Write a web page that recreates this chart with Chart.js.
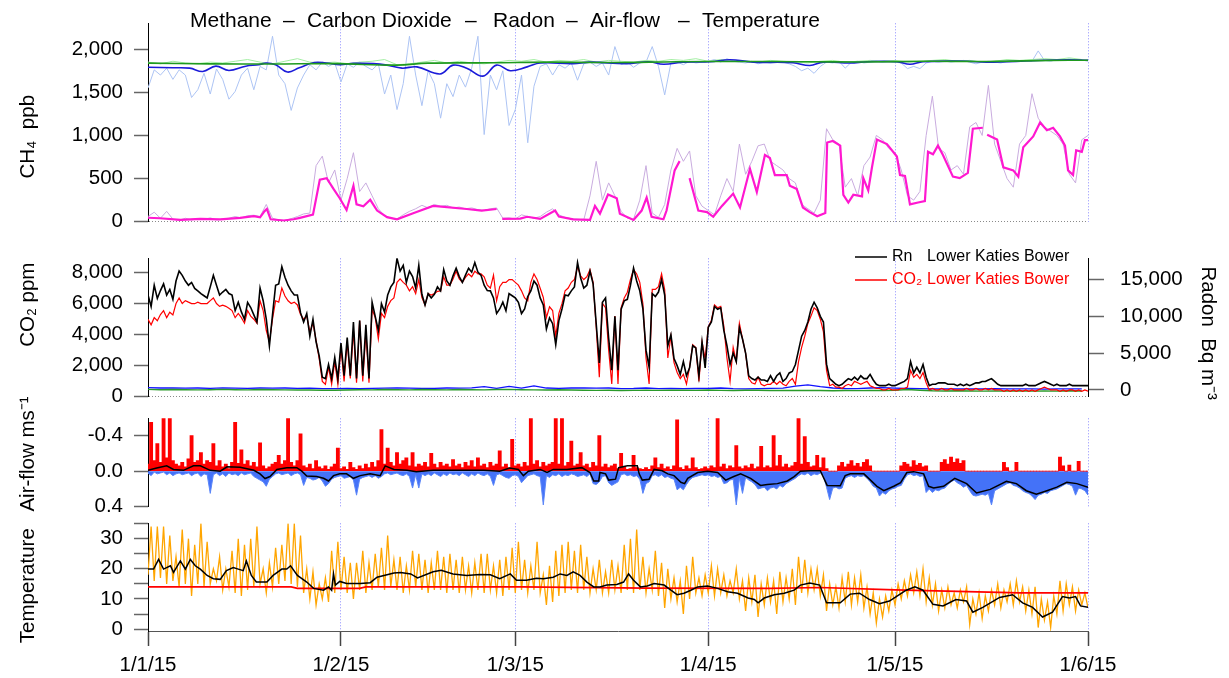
<!DOCTYPE html>
<html>
<head>
<meta charset="utf-8">
<script src="https://cdn.jsdelivr.net/npm/chart.js@4.4.1/dist/chart.umd.min.js"></script>
<style>
  html, body { margin: 0; padding: 0; background: #fff; }
  #wrap { position: relative; width: 1229px; height: 678px; overflow: hidden; }
  canvas { position: absolute; left: 0; }
</style>
</head>
<body>
<div id="wrap">
  <canvas id="ch4" width="1229" height="245" style="top:0px"></canvas>
  <canvas id="co2" width="1229" height="195" style="top:230px"></canvas>
  <canvas id="air" width="1229" height="135" style="top:395px"></canvas>
  <canvas id="temp" width="1229" height="178" style="top:500px"></canvas>
</div>
<script>
// x axis: days since 1 Jan 2015
const monthDays = [0, 31, 59, 90, 120, 151];
const monthLabels = ['1/1/15', '1/2/15', '1/3/15', '1/4/15', '1/5/15', '1/6/15'];

// ---- methane (ppb) ----
// daily raw, outside air
const ch4Raw = [1550,1760,1700,1780,1650,1760,1700,1440,1530,1720,
  1480,1770,1650,1420,1510,1700,1780,1530,1800,1760,
  2150,1700,1600,1290,1550,1700,1820,1760,1850,1800,
  1840,1620,1830,1790,1850,1800,1760,1830,1480,1700,
  1300,1600,2150,1700,1345,1750,1600,1200,1600,1450,
  1700,1560,1780,2150,1010,1700,1530,1750,1115,1300,
  1700,915,1570,1800,1830,1700,1820,1780,1840,1640,
  1830,1850,1800,1840,1700,2030,1820,1850,1790,1840,
  1850,2030,1800,1470,1840,1850,1820,1860,1840,1850,
  1860,1880,1850,1890,1860,1850,1840,1860,1830,1850,
  1840,1860,1850,1830,1800,1750,1780,1720,1800,1850,
  1840,1860,1780,1850,1860,1840,1850,1860,1850,1860,
  1850,1840,1775,1800,1775,1840,1860,1850,1860,1850,
  1860,1870,1850,1830,1850,1860,1850,1840,1860,1870,
  1860,1870,1860,1980,1870,1860,1880,1870,1890,1880,
  1870,1870];
const ch4SmoothDays = [0,4,6.7,8.8,10.9,13,15.7,17.8,19,20.5,22.4,24.3,26.7,28.6,30.8,33,36.2,38.4,40.8,43.2,
  46.9,49,51.2,53.8,56,58.2,60.9,63,68.3,71,76.9,80.4,82.8,86,90.3,93.5,97.2,103.6,106.3,108.5,
  112.8,115.5,120.3,122.4,124.5,131.5,134.8,142,147.6,151];
const ch4Smooth = [1790,1785,1780,1742,1803,1753,1803,1820,1839,1820,1735,1785,1845,1840,1820,1835,1833,1815,1780,1795,
  1713,1815,1780,1688,1815,1750,1795,1840,1833,1850,1833,1855,1825,1850,1855,1878,1850,1843,1810,1850,
  1840,1855,1855,1825,1855,1860,1850,1865,1878,1870];
// every 2 days, second outside sensor
const ch4BgRaw = [1850,1830,1860,1840,1830,1850,1840,1860,1880,1850,
  1830,1860,1890,1850,1840,1850,1830,1850,1860,1880,
  1820,1830,1850,1870,1840,1860,1840,1830,1850,1870,
  1860,1880,1850,1870,1860,1880,1850,1870,1860,1850,
  1870,1860,1880,1870,1890,1860,1880,1870,1860,1850,
  1870,1860,1850,1840,1860,1870,1850,1860,1870,1860,
  1870,1850,1860,1870,1880,1860,1870,1850,1860,1880,
  1870,1880,1890,1880,1900,1880];
const ch4BgDays = [0,10,20,30,40,45,55,65,75,85,95,105,115,125,135,145,151];
const ch4Bg = [1838,1830,1828,1832,1815,1838,1842,1850,1845,1855,1858,1855,1852,1860,1858,1870,1872];
// Lower Katies Bower, daily raw + smoothed
const lkbCh4Raw = [60,110,40,120,30,15,40,20,35,25,
  45,20,30,40,60,45,70,75,60,200,
  40,20,15,35,60,90,100,650,760,450,
  600,250,500,800,350,450,300,150,70,40,
  30,80,120,150,190,160,200,180,190,160,
  170,150,160,140,130,150,160,40,45,30,
  80,60,40,60,110,150,80,50,35,30,
  20,300,700,250,450,300,120,40,30,250,
  650,100,50,200,600,850,700,820,300,180,
  130,80,300,500,350,900,550,700,880,900,
  700,650,600,500,450,200,150,100,250,1078,
  950,900,400,500,300,650,750,1000,950,850,
  800,600,300,250,350,1000,1455,850,800,600,
  650,550,1100,1150,1000,1580,900,700,500,400,
  900,1000,1484,1200,1100,1050,1000,900,550,450,
  950,1000];
const lkbCh4Days = [0,1.9,5.2,8.4,11.6,14.8,17,18,18.7,19.1,19.7,21.8,23.4,24.4,26.5,27.6,28.7,29.8,30.8,31.9,
  33,33.5,34.6,35.7,36.8,38.4,40,42.7,45.8,51.2,53.6,56,56.4,56.9,59.8,60.9,63,65.4,66,68.3,
  71,71.8,72.6,73.9,75.3,75.8,78,79.3,80.1,80.9,82.8,83.3,84.6,85.4,86.2,87,87.6,88.4,89.8,90.8,
  92.2,94,95.1,96.7,97.8,99.1,99.9,100.7,102.6,103.1,104.2,105.2,106.3,107.5,108.8,109.1,110,111.2,111.7,112.5,
  113.3,114.7,114.9,115.7,116.3,117.1,118.7,120.3,120.8,121.6,122.4,123.7,124.8,125.3,126.1,126.9,127.7,129.3,130.4,131.7,
  132.5,134.1,134.5,134.8,136.4,137.4,139,139.8,140.6,142.2,143.3,144.4,145.4,146.5,147.3,147.8,148.6,149.1,150,150.5,
  151];
const lkbCh4 = [46,40,21,32,28,45,64,50,120,147,28,14,28,45,82,487,505,380,272,136,
  416,201,179,254,129,53,28,100,183,147,129,147,null,32,35,57,32,129,60,28,
  21,183,93,315,272,93,21,129,280,57,28,129,595,702,null,505,344,129,111,57,
  183,326,165,613,344,774,738,541,541,416,380,165,111,64,100,918,935,882,312,222,
  312,294,505,362,631,953,900,756,541,530,201,222,240,810,781,882,774,523,505,566,
  1078,1089,null,1007,953,631,595,523,864,989,1150,1060,1089,989,882,595,541,828,810,946,
  946];

// ---- CO2 (ppm) and radon (Bq m-3), every half day ----
const radon = [12890,11340,14230,12430,13500,14420,12890,13650,12310,14800,
  16150,15570,14800,14230,14610,13800,13460,13080,12800,12500,
  14000,15580,14230,12890,13300,13650,13100,12890,10770,11920,
  10600,9610,11900,11200,10190,9230,13850,12120,9610,5960,
  10190,14230,14400,16730,15300,14230,13460,12890,12890,10500,
  9230,10380,7310,9610,6540,4620,1730,1540,3460,1540,
  4420,1540,6350,1920,7120,1920,9230,1540,9420,1920,
  8840,1540,11920,10000,8080,11730,10580,12890,14000,14620,
  17890,16150,16920,14620,16150,15400,13850,16920,13000,11540,
  13080,12500,13000,14000,13460,16350,14800,14230,15500,16540,
  15400,14610,15600,16540,16000,17310,16000,15570,14230,13500,
  13460,12500,10380,11000,11920,10770,13080,12800,12500,11900,
  10380,11000,12700,13460,14800,14230,12500,11540,8270,9800,
  9000,6150,9420,11000,12890,12800,13460,14000,17310,15200,
  13850,14230,16150,14420,9000,3660,11920,12500,7000,2690,
  10000,2690,10960,12100,12310,14200,16540,14800,13460,11000,
  5400,3080,13080,12700,13300,15000,12890,6000,7500,4250,
  3300,2110,3850,1920,3000,6000,5700,1920,6500,3000,
  8500,9230,11340,10960,11150,8080,6000,3460,5000,3850,
  8460,6920,5000,1920,1540,1350,1730,1350,1350,1150,
  1920,1150,1920,2310,1150,1540,2310,2500,3460,5380,
  7300,8080,9230,10960,11920,11150,10000,9230,3500,1540,
  1150,770,580,770,1150,1540,1350,1730,1350,1920,
  1540,1540,2110,1350,770,580,580,580,770,580,
  580,770,960,1150,1540,3850,2310,3080,2310,3460,
  1730,580,770,770,960,960,960,770,770,770,
  580,770,580,770,580,770,960,960,1150,1150,
  1350,1540,1150,770,580,580,580,580,580,580,
  580,580,770,580,580,580,770,960,1150,960,
  770,580,770,580,580,580,770,580,580,580,
  580,580,580];
const co2 = [5000,4640,5100,4900,5300,5550,5100,5450,5280,6010,
  6370,6010,6200,6100,6010,6000,6100,6010,6010,6010,
  6200,6370,6010,5830,5900,5830,5700,5560,5100,5370,
  5100,4740,5560,5200,5000,4740,6190,5560,4270,3540,
  5000,6190,6100,7010,6500,6190,6010,6100,5920,5300,
  5000,5200,4180,4740,3630,2450,990,800,1900,800,
  2260,800,3180,990,3540,1170,4270,900,4920,990,
  4180,900,5640,5100,3730,5380,5100,5830,6200,6370,
  7380,7600,7380,7200,6830,7100,6650,7560,6400,5920,
  6650,6560,6650,6800,6830,7740,7200,7200,7600,8100,
  7600,7380,7700,7920,7740,8100,7920,7920,7740,7200,
  7010,7840,6190,7100,7380,7380,7560,7560,7380,7200,
  6830,6370,6190,7380,7920,7560,7000,6400,5100,5800,
  5560,3910,5380,6000,6830,7010,7380,7560,8380,7800,
  7560,7740,8200,7380,4500,1260,6010,5740,3000,820,
  5200,820,5740,6370,6740,7560,8200,7920,7380,6000,
  2500,820,6920,6920,7100,7930,6920,2500,3900,2200,
  1560,1170,1440,820,1900,3360,3180,990,3540,2440,
  4500,4920,5920,5740,5830,4560,2500,990,3180,2260,
  4730,3730,2800,1170,900,820,1260,800,700,800,
  800,990,800,990,800,700,990,1170,800,2260,
  3180,3900,4730,5200,5740,5560,5000,4180,1700,710,
  800,620,620,530,710,800,710,990,900,800,
  900,990,710,620,530,530,440,440,530,440,
  440,440,530,530,620,1700,1260,1440,1170,1560,
  900,440,530,440,440,530,440,440,530,440,
  440,440,440,530,440,440,530,440,440,530,
  440,530,440,440,440,350,440,350,440,350,
  440,350,440,350,440,350,440,530,620,530,
  440,440,440,350,440,350,440,440,350,440,
  350,440,350];
// every 2 days, outside CO2 sensors
const co2OutA = [580,560,570,550,560,540,570,550,540,560,
  550,560,540,550,520,520,530,520,540,550,
  560,550,540,540,560,550,570,650,540,660,
  560,700,560,540,560,560,550,560,520,530,
  560,520,540,520,530,540,560,520,510,520,
  540,550,680,760,650,560,530,520,560,580,
  550,530,520,500,510,500,510,500,520,500,
  510,500,490,510,500,500];
const co2OutB = [470,450,460,450,440,450,470,450,440,460,
  450,440,430,430,420,420,430,450,440,460,
  450,440,460,450,440,460,450,440,460,470,
  450,440,430,450,430,420,410,420,400,410,
  420,410,420,420,410,430,410,400,420,420,
  400,410,400,410,400,380,400,390,410,400,
  420,460,420,380,370,380,370,360,370,360,
  370,360,370,360,380,370];

// ---- air-flow (m/s), every half day: outward (negative) and inward (positive) parts ----
const airOut = [-0.08,-0.55,-0.12,-0.31,-0.10,-0.596,-0.15,-0.596,-0.12,-0.08,
  -0.06,-0.10,-0.05,-0.14,-0.40,-0.10,-0.12,-0.21,-0.08,-0.12,
  -0.10,-0.31,-0.06,-0.12,-0.05,-0.08,-0.03,-0.10,-0.55,-0.09,
  -0.24,-0.08,-0.12,-0.06,-0.10,-0.05,-0.32,-0.06,-0.03,-0.05,
  -0.08,-0.10,-0.18,-0.08,-0.12,-0.596,-0.10,-0.06,-0.12,-0.42,
  -0.06,-0.04,-0.08,-0.03,-0.12,-0.05,-0.03,-0.06,-0.02,-0.05,
  -0.08,-0.26,-0.03,-0.05,-0.02,-0.10,-0.04,-0.02,-0.06,-0.03,
  -0.08,-0.04,-0.10,-0.05,-0.12,-0.47,-0.08,-0.26,-0.10,-0.06,
  -0.21,-0.08,-0.12,-0.15,-0.06,-0.21,-0.05,-0.08,-0.06,-0.10,
  -0.05,-0.20,-0.08,-0.04,-0.10,-0.06,-0.08,-0.05,-0.13,-0.06,
  -0.08,-0.04,-0.10,-0.06,-0.12,-0.05,-0.15,-0.06,-0.08,-0.04,
  -0.10,-0.06,-0.08,-0.23,-0.05,-0.08,-0.04,-0.36,-0.06,-0.08,
  -0.05,-0.10,-0.06,-0.596,-0.08,-0.12,-0.05,-0.10,-0.06,-0.08,
  -0.10,-0.596,-0.08,-0.596,-0.06,-0.10,-0.34,-0.06,-0.08,-0.21,
  -0.06,-0.08,-0.04,-0.10,-0.06,-0.40,-0.05,-0.08,-0.04,-0.06,
  -0.08,-0.03,-0.20,-0.05,-0.02,-0.03,-0.18,-0.04,-0.03,-0.02,
  -0.04,-0.02,-0.06,-0.15,-0.04,-0.08,-0.03,-0.05,-0.02,-0.06,
  -0.58,-0.04,-0.02,-0.06,-0.03,-0.15,-0.04,-0.02,-0.03,-0.05,
  -0.03,-0.06,-0.04,-0.596,-0.05,-0.08,-0.03,-0.06,-0.04,-0.29,
  -0.05,-0.03,-0.06,-0.04,-0.08,-0.03,-0.05,-0.28,-0.04,-0.06,
  -0.04,-0.40,-0.06,-0.18,-0.05,-0.08,-0.04,-0.06,-0.10,-0.596,
  -0.08,-0.39,-0.10,-0.05,-0.06,-0.18,-0.04,-0.15,-0.03,0,
  0,0,-0.06,-0.10,-0.05,-0.08,-0.12,-0.06,-0.09,-0.05,
  -0.10,-0.13,-0.06,0,0,0,0,0,0,0,
  0,0,-0.06,-0.10,-0.08,-0.05,-0.12,-0.07,-0.09,-0.05,
  -0.06,0,0,0,0,-0.10,-0.13,-0.08,-0.16,-0.10,
  -0.14,-0.09,-0.12,0,0,0,0,0,0,0,
  0,0,0,0,0,-0.10,-0.04,0,0,-0.10,
  0,0,0,0,0,0,0,0,0,0,
  0,0,0,-0.16,-0.06,0,-0.07,0,0,-0.11,
  0,0,0];
const airIn = [0.02,0.05,0.01,0.03,0.02,0.01,0.04,0.02,0.05,0.03,
  0.02,0.04,0.03,0.02,0.05,0.03,0.02,0.06,0.03,0.04,
  0.25,0.04,0.02,0.05,0.03,0.06,0.02,0.04,0.03,0.05,
  0.02,0.04,0.03,0.02,0.06,0.08,0.10,0.12,0.17,0.09,
  0.06,0.03,0.02,0.04,0.03,0.02,0.05,0.03,0.02,0.04,
  0.16,0.07,0.08,0.10,0.09,0.07,0.11,0.17,0.14,0.09,
  0.07,0.06,0.05,0.08,0.07,0.06,0.10,0.27,0.09,0.07,
  0.06,0.05,0.07,0.05,0.08,0.06,0.03,0.02,0.04,0.03,
  0.02,0.04,0.05,0.03,0.06,0.19,0.04,0.19,0.03,0.05,
  0.03,0.05,0.02,0.04,0.06,0.03,0.05,0.02,0.04,0.03,
  0.05,0.02,0.04,0.06,0.03,0.05,0.02,0.04,0.05,0.03,
  0.06,0.16,0.04,0.03,0.05,0.07,0.08,0.05,0.04,0.06,
  0.13,0.09,0.05,0.04,0.03,0.05,0.06,0.38,0.05,0.07,
  0.04,0.05,0.03,0.06,0.04,0.05,0.03,0.04,0.06,0.05,
  0.04,0.06,0.03,0.14,0.15,0.12,0.06,0.05,0.13,0.16,
  0.14,0.12,0.04,0.03,0.05,0.04,0.06,0.05,0.09,0.25,
  0.14,0.12,0.05,0.04,0.06,0.04,0.07,0.06,0.08,0.09,
  0.21,0.18,0.21,0.15,0.10,0.07,0.06,0.05,0.04,0.05,
  0.04,0.06,0.05,0.07,0.06,0.14,0.13,0.10,0.09,0.38,
  0.08,0.25,0.07,0.10,0.12,0.15,0.20,0.19,0.18,0.22,
  0.19,0.18,0.20,0.16,0.18,0.14,0.12,0.10,0.08,0.05,
  0.03,0.04,0.02,0.05,0.03,0.04,0.02,0.05,0.18,0.32,
  0.19,0.18,0.20,0.19,0.08,0.06,0.05,0.07,0.05,0.06,
  0.05,0.08,0.12,0.17,0.19,0.28,0.24,0.26,0.22,0.20,
  0.19,0.17,0.16,0.09,0.04,0.03,0.05,0.04,0.06,0.05,
  0.24,0.20,0.24,0.21,0.22,0.20,0.19,0.15,0.12,0.10,
  0.13,0.15,0.18,0.16,0.22,0.27,0.28,0.27,0.26,0.27,
  0.25,0.38,0.22,0.20,0.18,0.16,0.14,0.13,0.16,0.17,
  0.19,0.22,0.24,0.25,0.28,0.32,0.27,0.26,0.24,0.25,
  0.22,0.21,0.20,0.18,0.16,0.14,0.15,0.17,0.27,0.19,
  0.20,0.22,0.27];
const airSmoothDays = [0,1.4,3,4.1,5.7,7.3,8.4,10,11.6,12.7,14.8,17,18,18.8,19.6,20.7,22.3,23.9,24.7,25.5,
  27.1,28.2,29,29.8,30.8,31.9,33,34.1,35.7,37.3,38.1,39.5,41.6,43.1,45.8,51.2,53.9,56.5,58.1,59.5,
  60.3,61.1,63,64.1,65.1,67.3,69.7,71,71.6,72.4,72.6,73.5,74,75.1,75.6,77,78.6,78.9,79.4,80.5,
  81.3,82.6,83.5,84.5,85.6,86.2,86.7,88.3,89.9,91.5,92.8,94.1,95.2,96.8,98.4,99.5,101.1,102.7,103.8,104.8,
  106.4,108,109.1,111.2,112,112.8,115,117.1,118.2,119.8,120.9,121.9,123,124.6,125.4,126.2,127.8,129.6,131.5,133.1,
  135.3,137.9,139.5,141.1,142.7,144.4,146,147.6,149.2,151];
const airSmooth = [-0.01,-0.035,-0.06,-0.02,-0.01,-0.06,-0.06,-0.01,0,-0.05,-0.045,-0.01,0.03,0.083,0.06,-0.02,-0.04,-0.04,0,0.055,
  0.06,0.08,0.11,0.05,0.03,0.03,0.08,0.05,0.03,0.05,-0.06,-0.02,-0.01,0.005,-0.01,-0.01,-0.01,0,-0.035,-0.02,
  0.05,0,-0.02,0.015,-0.02,-0.02,-0.04,0.015,0.11,0.11,0.015,0.03,0.10,0.09,-0.04,-0.06,-0.06,0.03,0.10,0.09,
  -0.02,-0.005,0.03,0.05,0.125,0.14,0.08,0.015,0,0.015,0.10,0.06,0.03,0.08,0.16,0.15,0.14,0.11,0.06,0,
  -0.005,-0.005,0.16,0.165,0.05,0.03,0.03,0.17,0.22,0.17,0.13,0.015,0.005,0.03,0.17,0.19,0.17,0.08,0.14,0.245,
  0.205,0.115,0.14,0.22,0.26,0.22,0.18,0.125,0.14,0.18];

// ---- temperature (deg C) ----
const tempRaw = [18,34,16,34,17,34,15,31,16,24,
  14,33,15,30,11,28,15,35,14,29,
  15,20,16,24,13,20,14,26,12,30,
  11,28,13,30,14,34,15,20,12,22,
  14,27,15,28,16,35,15,35,14,31,
  12,20,10,19,8,15,10,17,9,26,
  12,29,13,24,12,22,10,22,13,26,
  12,22,13,25,14,27,13,31,14,23,
  13,24,12,21,13,26,14,25,13,23,
  12,22,13,26,13,24,12,25,13,23,
  12,24,13,21,12,22,13,25,12,25,
  13,21,12,23,11,24,13,27,12,29,
  13,23,12,21,13,29,12,18,8,21,
  9,26,11,28,12,29,13,26,12,28,
  13,24,12,20,13,23,12,19,12,23,
  13,21,12,28,13,30,12,33,13,24,
  12,20,13,26,11,22,7,20,10,17,
  9,16,5,21,10,24,12,17,11,18,
  12,21,11,20,12,18,11,16,12,20,
  10,16,6,17,9,18,4,15,8,17,
  9,16,5,19,9,17,10,20,8,24,
  12,23,12,20,13,20,11,18,6,15,
  8,14,7,17,9,19,8,17,9,18,
  7,14,5,12,2,10,4,11,6,13,
  8,15,10,16,11,18,12,19,11,20,
  9,17,8,15,6,13,7,14,8,12,
  7,13,9,14,1.5,10,5,12,3.5,11,
  6,13,8,15,7,13,9,15,8,16,
  9,14,6,13,5,14,0.5,10,3,9,
  0.5,11,5,16,6,15,8,14,6,13,
  8,12,7];
const tempSmoothDays = [0,0.9,1.7,2.5,3.6,4.1,5.2,6,6.8,7.6,8.4,9.5,10.5,11.6,12.6,13.7,14.5,15.3,15.8,16.6,
  17.4,19.1,20.1,21.5,22.3,22.9,24,25.5,26.6,28.2,29,29.5,29.8,30.1,30.8,31.9,33,34.1,35.7,36.8,
  38.4,39.5,40.6,42.2,43.3,45.8,47.1,49,51.2,53.3,55,56.5,58.2,59.2,60.8,62.4,63.5,65.1,66.2,67.3,
  68.3,69.4,70.5,71.6,72.6,73.7,75.3,76.4,77.2,78,79.1,80.2,81.3,82.9,84,85,86.1,87.2,88.3,89.9,
  91.5,93.1,94.7,96.4,97.4,98,99,100.6,102.2,103.8,104.8,106.3,107.9,109,111.2,112.8,114.3,115.9,117.5,119.1,
  120.2,121.8,123.2,124.5,126.1,127.7,129.8,131.5,132.5,134.1,136.8,138.9,140.5,142.1,143.7,145.3,146.9,148,149,149.8,
  151];
const tempSmooth = [19.9,19.9,23.1,19.9,21.0,18.8,22.6,19.9,23.1,21.0,19.9,17.8,16.7,16.5,19.4,20.4,19.9,19.4,22.6,17.8,
  15.6,15.6,17.8,19.9,19.9,21.0,17.8,15.6,13.5,12.9,14.0,12.9,18.3,14.6,15.8,15.1,15.1,15.1,15.4,17.2,
  18.0,18.6,18.8,18.3,17.0,19.0,19.5,18.3,17.8,18.1,18.0,16.7,18.3,16.2,16.2,16.9,16.7,17.2,18.3,17.8,
  19.0,17.8,15.6,14.0,14.0,14.6,14.8,15.6,18.3,16.2,14.0,14.3,15.1,14.6,12.9,11.4,11.9,12.9,14.0,14.3,
  13.5,12.4,11.9,10.3,9.8,8.7,10.3,11.4,11.9,12.9,14.6,15.3,14.6,8.7,8.7,11.6,11.9,9.8,8.4,9.3,
  10.8,12.9,14.0,12.9,8.2,7.7,9.8,9.3,5.6,7.2,10.5,11.4,8.7,7.2,4.0,5.6,10.8,10.3,10.8,7.7,
  7.2];
const tempCaveDays = [0,23,24,34,35,60,80,100,108,120,130,140,151];
const tempCave = [14.0,14.0,13.5,13.5,14.0,14.0,13.6,13.5,13.8,13.0,12.5,12.0,12.0];

// ---------------------------------------------------------------
const FONT = "'Liberation Sans', Arial, Helvetica, sans-serif";
Chart.defaults.font.family = FONT;
Chart.defaults.color = '#000';

const everyHalfDay = n => Array.from({length: n}, (_, i) => i / 2);
const everyDay = (n, step) => Array.from({length: n}, (_, i) => i * step);
const pts = (times, values) => values.map((v, i) => ({x: times[i], y: v}));
const NB = '\u00A0';

function line(data, color, width, extra) {
  return Object.assign({
    data: data, borderColor: color, backgroundColor: color, borderWidth: width,
    pointRadius: 0, tension: 0, fill: false, spanGaps: false
  }, extra || {});
}

function xAxis(show) {
  return {
    type: 'linear', min: 0, max: 151, offset: false,
    afterBuildTicks: s => { s.ticks = monthDays.map(v => ({value: v})); },
    afterFit: s => { s.height = show ? 47 : 0; },
    grid: {
      offset: false,
      color: c => (c.tick && c.tick.value > 0) ? '#8c8cff' : 'rgba(0,0,0,0)',
      lineWidth: 1, drawTicks: show, tickLength: 15, tickColor: '#444', tickWidth: 1.5
    },
    border: {display: show, color: '#555', width: 1, dash: [1, 2]},
    ticks: {
      display: show, autoSkip: false, maxRotation: 0, padding: 7, font: {size: 20.5},
      callback: v => monthLabels[monthDays.indexOf(v)]
    }
  };
}

function yAxis(o) {
  return {
    type: 'linear', position: o.position || 'left',
    min: o.min, max: o.max, reverse: !!o.reverse,
    afterBuildTicks: s => { s.ticks = o.ticks.map(v => ({value: v})); },
    afterFit: s => { s.width = o.width; },
    grid: {
      drawOnChartArea: !!o.zeroLine,
      color: c => (o.zeroLine && c.tick && c.tick.value === 0) ? '#8a8a8a' : 'rgba(0,0,0,0)',
      tickLength: o.tickLength || 14, tickColor: '#666', tickWidth: 1.5
    },
    border: {color: '#000', width: 1, dash: [1, 2]},
    ticks: {autoSkip: false, padding: o.padding || 11, font: {size: 20.5}, callback: o.format},
    title: {display: true, text: o.title, font: {size: 20.5}, padding: {top: o.titlePad || 16, bottom: 0}}
  };
}

const thousands = v => v.toLocaleString('en-US');

function makeChart(id, datasets, scales, padding, plugins) {
  return new Chart(document.getElementById(id), {
    type: 'line',
    data: {datasets: datasets},
    options: {
      responsive: false, animation: false, events: [],
      layout: {padding: padding},
      scales: scales,
      plugins: {legend: {display: false}, tooltip: {enabled: false}}
    },
    plugins: plugins || []
  });
}

const headline = {
  id: 'headline',
  afterDraw(chart) {
    const ctx = chart.ctx;
    ctx.save();
    ctx.font = '21px ' + FONT;
    ctx.fillStyle = '#000';
    [['Methane', 190], ['\u2013', 283], ['Carbon Dioxide', 307], ['\u2013', 465], ['Radon', 493],
     ['\u2013', 566], ['Air-flow', 590], ['\u2013', 678], ['Temperature', 702]]
      .forEach(([t, x]) => ctx.fillText(t, x, 27));
    ctx.restore();
  }
};

const bowerLegend = {
  id: 'bowerLegend',
  afterDraw(chart) {
    const ctx = chart.ctx;
    ctx.save();
    ctx.font = '16px ' + FONT;
    ctx.textBaseline = 'middle';
    [['Rn', '#000', 27], ['CO\u2082', '#ff0000', 50]].forEach(([name, col, y]) => {
      ctx.strokeStyle = col;
      ctx.lineWidth = 1.5;
      ctx.beginPath(); ctx.moveTo(855, y); ctx.lineTo(887, y); ctx.stroke();
      ctx.fillStyle = col;
      ctx.fillText(name, 892, y);
      ctx.fillText('Lower Katies Bower', 927, y);
    });
    ctx.restore();
  }
};

// methane panel
makeChart('ch4', [
  line(pts(ch4BgDays, ch4Bg), '#1f9a1f', 1.6, {tension: 0.4}),
  line(pts(ch4SmoothDays, ch4Smooth), '#1b1bd9', 1.6, {tension: 0.4}),
  line(pts(lkbCh4Days, lkbCh4), '#ff18d0', 2.2),
  line(pts(everyDay(152, 1), lkbCh4Raw), '#c9acdf', 1),
  line(pts(everyDay(76, 2), ch4BgRaw), '#a3eea3', 1),
  line(pts(everyDay(152, 1), ch4Raw), '#adc4f4', 1)
], {
  x: xAxis(false),
  y: yAxis({min: 0, max: 2300, ticks: [0, 500, 1000, 1500, 2000], width: 148,
    title: 'CH\u2084  ppb' + NB.repeat(5), format: thousands, zeroLine: true})
}, {left: 0, right: 141, top: 18, bottom: 13}, [headline]);

// CO2 / radon panel
makeChart('co2', [
  line(pts(everyHalfDay(303), radon), '#000', 1.6, {yAxisID: 'rn'}),
  line(pts(everyHalfDay(303), co2), '#ff0000', 1.2, {yAxisID: 'y'}),
  line(pts(everyDay(76, 2), co2OutB), '#2a9a2a', 1.4, {yAxisID: 'y'}),
  line(pts(everyDay(76, 2), co2OutA), '#1010ff', 1.3, {yAxisID: 'y'})
], {
  x: xAxis(false),
  y: yAxis({min: 0, max: 8930, ticks: [0, 2000, 4000, 6000, 8000], width: 148,
    title: NB.repeat(8) + 'CO\u2082 ppm', format: thousands, zeroLine: true}),
  rn: yAxis({position: 'right', min: -923, max: 17887, ticks: [0, 5000, 10000, 15000], width: 141,
    tickLength: 16, padding: 16, titlePad: 9, title: NB.repeat(2) + 'Radon  Bq m\u207B\u00B3', format: thousands})
}, {left: 0, right: 0, top: 15, bottom: 17}, [bowerLegend]);

// air-flow panel
makeChart('air', [
  line(pts(airSmoothDays, airSmooth), '#000', 1.5),
  {type: 'bar', data: pts(everyHalfDay(303), airOut), backgroundColor: '#ff0000',
    borderWidth: 0, barThickness: 3.2, grouped: false},
  line(pts(everyHalfDay(303), airIn), '#5b86f8', 1, {fill: 'origin', backgroundColor: '#4472f8'})
], {
  x: xAxis(false),
  y: yAxis({min: -0.596, max: 0.4, reverse: true, ticks: [-0.4, 0, 0.4], width: 148,
    title: NB.repeat(3) + 'Air-flow ms\u207B\u00B9', format: v => v.toFixed(1)})
}, {left: 0, right: 141, top: 15, bottom: 17});

// temperature panel
makeChart('temp', [
  line(pts(tempSmoothDays, tempSmooth), '#000', 1.5),
  line(pts(tempCaveDays, tempCave), '#ff0000', 1.6),
  line(pts(everyHalfDay(303), tempRaw), '#ffa500', 1.3)
], {
  x: xAxis(true),
  y: yAxis({min: -0.64, max: 35.1, ticks: [0, 5, 10, 15, 20, 25, 30, 35], width: 148,
    title: 'Temperature' + NB.repeat(3), format: v => (v % 10 === 0 ? String(v) : '')})
}, {left: 0, right: 141, top: 19, bottom: 0});
</script>
</body>
</html>
